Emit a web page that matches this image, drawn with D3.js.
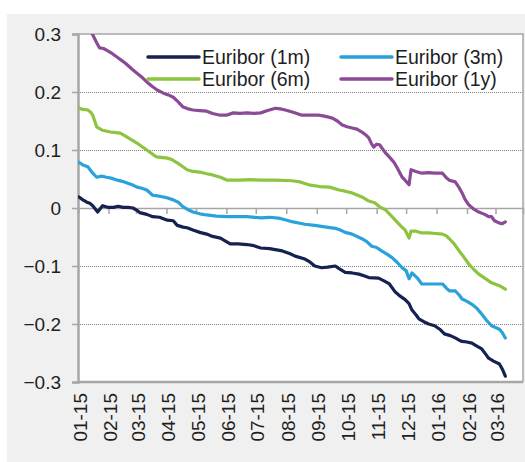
<!DOCTYPE html>
<html>
<head>
<meta charset="utf-8">
<script src="https://cdn.jsdelivr.net/npm/d3@7"></script>
<style>
  html, body { margin: 0; padding: 0; background: #ffffff; }
  svg { display: block; }
  text { font-family: "Liberation Sans", Arial, sans-serif; fill: #1e1e1e; }
</style>
</head>
<body>
<svg id="chart" width="525" height="462"></svg>
<script>
// Euribor fixings, Jan 2015 – Mar 2016 (percent)
const euribor1m = [
  ["2015-01-02", 0.019], ["2015-01-06", 0.014], ["2015-01-10", 0.010], ["2015-01-13", 0.008],
  ["2015-01-16", 0.004], ["2015-01-21", -0.007], ["2015-01-26", 0.004], ["2015-02-01", 0.001],
  ["2015-02-06", 0.001], ["2015-02-11", 0.003], ["2015-02-16", 0.001], ["2015-02-21", 0.001],
  ["2015-02-26", 0.000], ["2015-03-02", -0.004], ["2015-03-05", -0.008], ["2015-03-12", -0.011],
  ["2015-03-18", -0.015], ["2015-03-25", -0.016], ["2015-04-02", -0.021], ["2015-04-08", -0.022],
  ["2015-04-12", -0.030], ["2015-04-18", -0.033], ["2015-04-22", -0.034], ["2015-04-28", -0.038],
  ["2015-05-05", -0.042], ["2015-05-12", -0.045], ["2015-05-18", -0.049], ["2015-05-26", -0.052],
  ["2015-06-01", -0.058], ["2015-06-05", -0.062], ["2015-06-13", -0.062], ["2015-06-22", -0.063],
  ["2015-06-29", -0.065], ["2015-07-06", -0.069], ["2015-07-15", -0.070], ["2015-07-28", -0.074],
  ["2015-08-05", -0.079], ["2015-08-10", -0.083], ["2015-08-20", -0.088], ["2015-08-25", -0.093],
  ["2015-08-30", -0.100], ["2015-09-06", -0.103], ["2015-09-12", -0.102], ["2015-09-20", -0.100],
  ["2015-09-25", -0.106], ["2015-09-30", -0.111], ["2015-10-07", -0.112], ["2015-10-14", -0.114],
  ["2015-10-19", -0.117], ["2015-10-24", -0.120], ["2015-11-03", -0.121], ["2015-11-09", -0.126],
  ["2015-11-14", -0.131], ["2015-11-20", -0.145], ["2015-11-25", -0.152], ["2015-11-30", -0.158],
  ["2015-12-04", -0.165], ["2015-12-07", -0.176], ["2015-12-11", -0.184], ["2015-12-14", -0.191],
  ["2015-12-19", -0.196], ["2015-12-24", -0.200], ["2015-12-30", -0.203], ["2016-01-05", -0.210],
  ["2016-01-09", -0.217], ["2016-01-15", -0.220], ["2016-01-20", -0.224], ["2016-01-24", -0.228],
  ["2016-01-27", -0.230], ["2016-02-01", -0.231], ["2016-02-06", -0.233], ["2016-02-11", -0.238],
  ["2016-02-16", -0.243], ["2016-02-20", -0.252], ["2016-02-23", -0.259], ["2016-02-28", -0.264],
  ["2016-03-05", -0.269], ["2016-03-08", -0.278], ["2016-03-11", -0.290]
];

const euribor3m = [
  ["2015-01-02", 0.079], ["2015-01-06", 0.074], ["2015-01-11", 0.071], ["2015-01-16", 0.060],
  ["2015-01-20", 0.053], ["2015-01-25", 0.055], ["2015-01-30", 0.053], ["2015-02-05", 0.051],
  ["2015-02-10", 0.048], ["2015-02-15", 0.046], ["2015-02-20", 0.043], ["2015-02-25", 0.040],
  ["2015-03-02", 0.036], ["2015-03-07", 0.034], ["2015-03-12", 0.031], ["2015-03-18", 0.022],
  ["2015-03-23", 0.021], ["2015-03-29", 0.019], ["2015-04-03", 0.017], ["2015-04-08", 0.014],
  ["2015-04-13", 0.010], ["2015-04-18", 0.002], ["2015-04-23", -0.003], ["2015-04-28", -0.007],
  ["2015-05-05", -0.010], ["2015-05-12", -0.012], ["2015-05-22", -0.014], ["2015-06-02", -0.015],
  ["2015-06-12", -0.015], ["2015-06-22", -0.015], ["2015-06-30", -0.016], ["2015-07-06", -0.017],
  ["2015-07-15", -0.016], ["2015-07-26", -0.018], ["2015-08-08", -0.024], ["2015-08-20", -0.028],
  ["2015-08-30", -0.030], ["2015-09-11", -0.033], ["2015-09-20", -0.035], ["2015-09-25", -0.038],
  ["2015-09-30", -0.042], ["2015-10-07", -0.045], ["2015-10-17", -0.053], ["2015-10-22", -0.058],
  ["2015-10-27", -0.066], ["2015-11-01", -0.068], ["2015-11-06", -0.074], ["2015-11-12", -0.080],
  ["2015-11-17", -0.086], ["2015-11-22", -0.094], ["2015-11-27", -0.103], ["2015-12-01", -0.108],
  ["2015-12-04", -0.122], ["2015-12-07", -0.112], ["2015-12-12", -0.120], ["2015-12-17", -0.131],
  ["2015-12-27", -0.131], ["2016-01-07", -0.131], ["2016-01-11", -0.138], ["2016-01-14", -0.143],
  ["2016-01-20", -0.143], ["2016-01-24", -0.150], ["2016-01-27", -0.157], ["2016-02-01", -0.161],
  ["2016-02-06", -0.166], ["2016-02-11", -0.173], ["2016-02-16", -0.183], ["2016-02-21", -0.194],
  ["2016-02-26", -0.203], ["2016-03-05", -0.209], ["2016-03-08", -0.215], ["2016-03-11", -0.224]
];

const euribor6m = [
  ["2015-01-02", 0.172], ["2015-01-06", 0.170], ["2015-01-11", 0.169], ["2015-01-14", 0.165],
  ["2015-01-16", 0.160], ["2015-01-18", 0.150], ["2015-01-20", 0.140], ["2015-01-26", 0.134],
  ["2015-02-03", 0.131], ["2015-02-13", 0.129], ["2015-02-20", 0.122], ["2015-02-25", 0.117],
  ["2015-03-02", 0.112], ["2015-03-07", 0.106], ["2015-03-12", 0.100], ["2015-03-17", 0.094],
  ["2015-03-22", 0.088], ["2015-04-02", 0.086], ["2015-04-07", 0.083], ["2015-04-12", 0.078],
  ["2015-04-17", 0.072], ["2015-04-22", 0.066], ["2015-04-28", 0.063], ["2015-05-05", 0.062],
  ["2015-05-12", 0.059], ["2015-05-18", 0.057], ["2015-05-26", 0.053], ["2015-06-02", 0.048],
  ["2015-06-15", 0.048], ["2015-06-25", 0.049], ["2015-07-06", 0.048], ["2015-07-21", 0.048],
  ["2015-08-07", 0.047], ["2015-08-15", 0.045], ["2015-08-24", 0.040], ["2015-09-04", 0.037],
  ["2015-09-14", 0.036], ["2015-09-24", 0.031], ["2015-09-30", 0.029], ["2015-10-07", 0.026],
  ["2015-10-17", 0.019], ["2015-10-24", 0.012], ["2015-10-30", 0.009], ["2015-11-04", 0.002],
  ["2015-11-10", -0.003], ["2015-11-15", -0.012], ["2015-11-20", -0.021], ["2015-11-25", -0.030],
  ["2015-11-30", -0.038], ["2015-12-04", -0.052], ["2015-12-06", -0.040], ["2015-12-11", -0.040],
  ["2015-12-17", -0.043], ["2015-12-24", -0.043], ["2015-12-31", -0.044], ["2016-01-07", -0.045],
  ["2016-01-11", -0.048], ["2016-01-14", -0.053], ["2016-01-19", -0.062], ["2016-01-24", -0.074],
  ["2016-01-29", -0.085], ["2016-02-03", -0.097], ["2016-02-08", -0.106], ["2016-02-13", -0.114],
  ["2016-02-19", -0.121], ["2016-02-26", -0.129], ["2016-03-05", -0.134], ["2016-03-11", -0.140]
];

const euribor1y = [
  ["2015-01-02", 0.330], ["2015-01-08", 0.318], ["2015-01-15", 0.302], ["2015-01-20", 0.285],
  ["2015-01-23", 0.276], ["2015-01-27", 0.275], ["2015-01-30", 0.272], ["2015-02-05", 0.266],
  ["2015-02-10", 0.260], ["2015-02-14", 0.255], ["2015-02-18", 0.250], ["2015-02-22", 0.244],
  ["2015-02-26", 0.238], ["2015-03-03", 0.231], ["2015-03-08", 0.224], ["2015-03-13", 0.216],
  ["2015-03-18", 0.209], ["2015-03-23", 0.203], ["2015-03-29", 0.198], ["2015-04-03", 0.195],
  ["2015-04-08", 0.191], ["2015-04-13", 0.183], ["2015-04-18", 0.174], ["2015-04-23", 0.171],
  ["2015-04-28", 0.169], ["2015-05-05", 0.168], ["2015-05-12", 0.167], ["2015-05-18", 0.163],
  ["2015-05-26", 0.160], ["2015-06-01", 0.160], ["2015-06-08", 0.164], ["2015-06-15", 0.163],
  ["2015-06-22", 0.164], ["2015-06-29", 0.163], ["2015-07-06", 0.164], ["2015-07-13", 0.168],
  ["2015-07-21", 0.172], ["2015-07-26", 0.171], ["2015-07-31", 0.169], ["2015-08-08", 0.165],
  ["2015-08-17", 0.160], ["2015-08-25", 0.160], ["2015-09-03", 0.160], ["2015-09-10", 0.158],
  ["2015-09-17", 0.155], ["2015-09-22", 0.150], ["2015-09-27", 0.143], ["2015-10-02", 0.140],
  ["2015-10-07", 0.138], ["2015-10-12", 0.136], ["2015-10-17", 0.131], ["2015-10-21", 0.126],
  ["2015-10-24", 0.121], ["2015-10-27", 0.110], ["2015-10-29", 0.105], ["2015-11-01", 0.110],
  ["2015-11-04", 0.109], ["2015-11-10", 0.095], ["2015-11-15", 0.086], ["2015-11-19", 0.078],
  ["2015-11-23", 0.066], ["2015-11-27", 0.053], ["2015-11-30", 0.048], ["2015-12-04", 0.040],
  ["2015-12-06", 0.066], ["2015-12-11", 0.063], ["2015-12-17", 0.060], ["2015-12-24", 0.061],
  ["2015-12-30", 0.060], ["2016-01-07", 0.060], ["2016-01-11", 0.052], ["2016-01-14", 0.048],
  ["2016-01-20", 0.045], ["2016-01-24", 0.035], ["2016-01-27", 0.026], ["2016-01-30", 0.015],
  ["2016-02-03", 0.005], ["2016-02-08", -0.002], ["2016-02-13", -0.007], ["2016-02-19", -0.011],
  ["2016-02-23", -0.015], ["2016-02-26", -0.015], ["2016-02-29", -0.022], ["2016-03-05", -0.026],
  ["2016-03-08", -0.027], ["2016-03-11", -0.024]
];

const seriesNames = ["Euribor (1m)", "Euribor (3m)", "Euribor (6m)", "Euribor (1y)"];
const seriesColors = ["#15214f", "#29a2dc", "#8cc43f", "#8b4a96"];
const seriesData = [euribor1m, euribor3m, euribor6m, euribor1y];

const yTicks = [-0.3, -0.2, -0.1, 0, 0.1, 0.2, 0.3];
const xDomain = ["2015-01-01", "2016-03-29"];
const xTickRange = ["2015-01-01", "2016-03-02"];

const parse = d3.utcParse("%Y-%m-%d");
const svg = d3.select("#chart");

// Chart area and plot area backgrounds
svg.append("rect").attr("x", 7).attr("y", 14).attr("width", 518).attr("height", 448).attr("fill", "#f0f0f0");

const plot = { left: 78, right: 523, top: 34, bottom: 382 };
svg.append("rect").attr("x", plot.left).attr("y", plot.top)
  .attr("width", plot.right - plot.left).attr("height", plot.bottom - plot.top)
  .attr("fill", "#ffffff");

const x = d3.scaleUtc().domain(xDomain.map(parse)).range([plot.left, plot.right]);
const y = d3.scaleLinear().domain([-0.3, 0.3]).range([plot.bottom, plot.top]);

// Dotted gridlines
svg.append("g").selectAll("line")
  .data(yTicks.filter(t => t !== 0 && Math.abs(t) < 0.3))
  .join("line")
  .attr("x1", plot.left).attr("x2", plot.right)
  .attr("y1", d => y(d)).attr("y2", d => y(d))
  .attr("stroke", "#7f7f7f").attr("stroke-width", 1).attr("stroke-dasharray", "1,1")
  .attr("shape-rendering", "crispEdges");

// Plot border (top / right)
svg.append("path")
  .attr("d", `M${plot.left},${plot.top}H${plot.right}V${plot.bottom}`)
  .attr("fill", "none").attr("stroke", "#a6a6a6").attr("stroke-width", 1.5);

// Y axis with tick marks on the left
const yAxis = d3.axisLeft(y).tickValues(yTicks).tickSize(6).tickPadding(11)
  .tickFormat(d => d === 0 ? "0" : d3.format(".1f")(d));
const yg = svg.append("g").attr("transform", `translate(${plot.left},0)`).call(yAxis);
yg.select(".domain").attr("stroke", "#a6a6a6").attr("stroke-width", 2.5);
yg.selectAll(".tick line").attr("stroke", "#a6a6a6").attr("stroke-width", 1.5);
yg.selectAll(".tick text").attr("font-size", 19).attr("fill", "#1e1e1e")
  .attr("font-family", "'Liberation Sans', Arial, sans-serif").attr("dy", "0.35em");

// Bottom border of the plot
svg.append("line").attr("x1", plot.left).attr("x2", plot.right)
  .attr("y1", plot.bottom).attr("y2", plot.bottom)
  .attr("stroke", "#a6a6a6").attr("stroke-width", 2.5);

// Category (date) axis sits on the zero line, month ticks pointing down
const monthTicks = d3.utcMonth.range(parse(xTickRange[0]), parse(xTickRange[1]));
const xAxis = d3.axisBottom(x).tickValues(monthTicks).tickSize(6).tickFormat("");
const xg = svg.append("g").attr("transform", `translate(0,${y(0)})`).call(xAxis);
xg.select(".domain").attr("stroke", "#a6a6a6").attr("stroke-width", 1.5);
xg.selectAll(".tick line").attr("stroke", "#a6a6a6").attr("stroke-width", 1.5);

// Month labels at the bottom, rotated
const fmt = d3.utcFormat("%m-%y");
svg.append("g").selectAll("text")
  .data(monthTicks)
  .join("text")
  .attr("transform", d => `translate(${x(d) + 2},${plot.bottom + 11}) rotate(-90)`)
  .attr("text-anchor", "end")
  .attr("dy", "0.35em")
  .attr("font-size", 19)
  .text(d => fmt(d));

// Series lines, clipped to the plot area
svg.append("clipPath").attr("id", "plotClip")
  .append("rect").attr("x", plot.left).attr("y", plot.top)
  .attr("width", plot.right - plot.left).attr("height", plot.bottom - plot.top);

const line = d3.line().x(d => x(parse(d[0]))).y(d => y(d[1]));
svg.append("g").attr("clip-path", "url(#plotClip)")
  .selectAll("path")
  .data(seriesData)
  .join("path")
  .attr("d", d => line(d))
  .attr("fill", "none")
  .attr("stroke", (d, i) => seriesColors[i])
  .attr("stroke-width", 3.2)
  .attr("stroke-linejoin", "round")
  .attr("stroke-linecap", "round");

// Legend: two columns, two rows
const legendCols = [148, 341];
const legendRows = [57, 79];
const legend = svg.append("g").selectAll("g")
  .data(seriesNames)
  .join("g")
  .attr("transform", (d, i) => `translate(${legendCols[i % 2]},${legendRows[Math.floor(i / 2)]})`);
legend.append("line")
  .attr("x1", 0).attr("x2", 51).attr("y1", 0).attr("y2", 0)
  .attr("stroke", (d, i) => seriesColors[i]).attr("stroke-width", 3.5)
  .attr("stroke-linecap", "round");
legend.append("text")
  .attr("x", 54).attr("dy", "0.35em")
  .attr("font-size", 19.5)
  .text(d => d);
</script>
</body>
</html>
